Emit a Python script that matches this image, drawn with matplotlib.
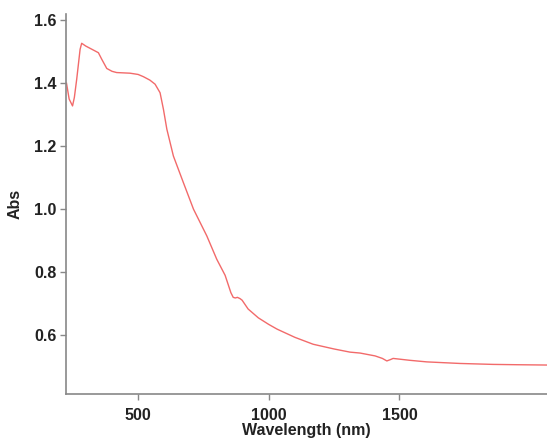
import matplotlib.pyplot as plt

plt.rcParams['font.family'] = ['Liberation Sans', 'DejaVu Sans']

# values
wavelength = [226, 236, 249, 256, 265, 278, 284, 300, 323, 348, 361, 380, 400, 418, 469, 500, 520,
              545, 565, 584, 597, 610, 635, 673, 712, 763, 801, 833, 845, 855,
              864, 872, 880, 890, 898, 921, 960, 1000, 1032, 1100, 1170, 1250, 1311, 1350, 1407,
              1435, 1452, 1465, 1476, 1540, 1605, 1732, 1859, 1950, 2064]
absorbance = [1.40, 1.35, 1.328, 1.355, 1.413, 1.508, 1.527, 1.518, 1.508, 1.497, 1.476, 1.447,
              1.438, 1.434, 1.432, 1.428, 1.421, 1.41, 1.397, 1.37, 1.317, 1.254, 1.169, 1.085,
              1.0, 0.915, 0.841, 0.79, 0.76, 0.735, 0.72, 0.718, 0.72, 0.716, 0.711,
              0.683, 0.655, 0.634, 0.619, 0.593, 0.571, 0.556, 0.546, 0.543, 0.534, 0.526, 0.518,
              0.522, 0.526, 0.520, 0.515, 0.510, 0.507, 0.506, 0.505]

fig = plt.figure(figsize=(5.47, 4.41), dpi=100)
ax = fig.add_axes([66/547, 47/441, 1 - 66/547, 380/441])

ax.plot(wavelength, absorbance, color='#f26a6a', lw=1.0)

ax.set_xlim(224, 2065)
ax.set_ylim(0.413, 1.62)
ax.set_xticks([500, 1000, 1500])
ax.set_yticks([0.6, 0.8, 1.0, 1.2, 1.4, 1.6])
ax.set_yticklabels(['0.6', '0.8', '1.0', '1.2', '1.4', '1.6'])

for s in ['top', 'right']:
    ax.spines[s].set_visible(False)
for s in ['left', 'bottom']:
    ax.spines[s].set_color('#888888')
    ax.spines[s].set_linewidth(1.2)

ax.tick_params(direction='out', length=4, width=1, color='#888888', pad=3,
               labelsize=11.5, labelcolor='#222222')
ax.tick_params(axis='x', pad=6)
for lab in ax.get_xticklabels() + ax.get_yticklabels():
    lab.set_fontweight('bold')

# reference clips this label at the bottom edge; keep it just inside
ax.set_xlabel('Wavelength (nm)', fontsize=11.5, fontweight='bold', color='#222222', labelpad=0)
ax.set_ylabel('Abs', fontsize=11.5, fontweight='bold', color='#222222', labelpad=8)

fig.savefig('out.png', dpi=100)
